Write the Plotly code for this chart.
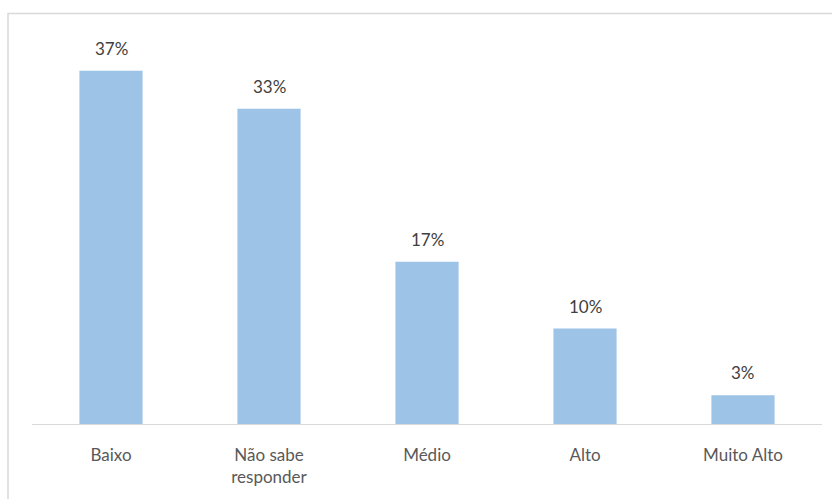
import plotly.graph_objects as go

categories = ["Baixo", "Não sabe<br>responder", "Médio", "Alto", "Muito Alto"]
values = [37, 33, 17, 10, 3]
value_labels = ["37%", "33%", "17%", "10%", "3%"]

BAR_COLOR = "#9DC3E6"
TEXT_COLOR = "#595959"
LINE_COLOR = "#D9D9D9"
FONT = "Lato, Open Sans, sans-serif"

W, H = 832, 499
M_L, M_R, M_T, M_B = 32, 10, 42, 75

fig = go.Figure(
    go.Bar(
        x=categories,
        y=values,
        marker=dict(color=BAR_COLOR, line=dict(width=0)),
        hoverinfo="skip",
    )
)

# value labels above the bars
for cat, v, lab in zip(categories, values, value_labels):
    fig.add_annotation(
        x=cat, y=v, text=lab, showarrow=False,
        yanchor="bottom", yshift=10,
        font=dict(family=FONT, size=17, color="#404040"),
    )

# outer chart border (only left and top edges fall inside the page)
px_w = W - M_L - M_R
px_h = H - M_T - M_B
fig.add_shape(
    type="rect", xref="paper", yref="paper",
    x0=(8 - M_L) / px_w, x1=(W + 20 - M_L) / px_w,
    y0=(H - 520 - M_B) / px_h, y1=(H - 13.5 - M_B) / px_h,
    line=dict(color=LINE_COLOR, width=1.5), fillcolor="rgba(0,0,0,0)",
    layer="below",
)

fig.update_layout(
    width=W, height=H,
    margin=dict(l=M_L, r=M_R, t=M_T, b=M_B, pad=0),
    paper_bgcolor="white", plot_bgcolor="white",
    bargap=0.6,
    showlegend=False,
    xaxis=dict(
        showline=True, linecolor=LINE_COLOR, linewidth=1.3,
        ticks="", ticklabelstandoff=15,
        tickfont=dict(family=FONT, size=17, color=TEXT_COLOR),
        showgrid=False, fixedrange=True,
    ),
    yaxis=dict(
        range=[0, 40], visible=False, showgrid=False, fixedrange=True,
    ),
)

fig.write_html("out.html")
